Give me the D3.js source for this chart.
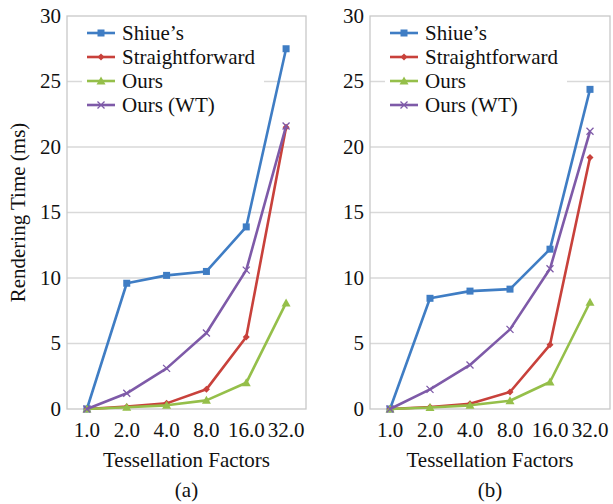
<!DOCTYPE html>
<meta charset="utf-8">
<style>
  body {margin: 0; background: #fff;}
</style>
<svg width="613" height="504"></svg>
<script src="https://d3js.org/d3.v7.min.js"></script>
<script>
  // ---------------------------------------------------------------
  // data
  // ---------------------------------------------------------------
  const factors = ["1.0", "2.0", "4.0", "8.0", "16.0", "32.0"];
  const yTicks = [0, 5, 10, 15, 20, 25, 30];
  const seriesNames = ["Shiue\u2019s", "Straightforward", "Ours", "Ours (WT)"];

  // panel (a)
  const shiueA    = [0, 9.6, 10.2, 10.5, 13.9, 27.5];
  const straightA = [0, 0.18, 0.43, 1.5, 5.5, 21.5];
  const oursA     = [0, 0.13, 0.28, 0.66, 2.0, 8.1];
  const oursWtA   = [0, 1.2, 3.1, 5.8, 10.6, 21.6];

  // panel (b)
  const shiueB    = [0, 8.45, 9.0, 9.15, 12.2, 24.4];
  const straightB = [0, 0.15, 0.4, 1.3, 4.9, 19.2];
  const oursB     = [0, 0.12, 0.28, 0.63, 2.06, 8.15];
  const oursWtB   = [0, 1.5, 3.36, 6.08, 10.7, 21.2];

  const colors  = ["#3f7dc4", "#c8413b", "#95bf4a", "#7e5aa8"];
  const markers = ["square", "diamond", "triangle", "cross"];

  // ---------------------------------------------------------------
  // setup
  // ---------------------------------------------------------------
  const svg = d3.select("svg");
  const plotTop = 16, plotBottom = 409;
  const FONT = "Liberation Serif";

  const panels = [
    {left: 67,  right: 306, label: "(a)", data: [shiueA, straightA, oursA, oursWtA], yTitle: true},
    {left: 370, right: 610, label: "(b)", data: [shiueB, straightB, oursB, oursWtB], yTitle: false}
  ];

  // every label goes through here so the serif face is set on the element itself
  function label(g, str) {
    return g.append("text").attr("font-family", FONT).style("font-family", FONT)
      .attr("font-size", 21).attr("fill", "#111").text(str);
  }

  function drawMarker(g, type, color) {
    if (type === "square") {
      g.append("rect").attr("x", -3.5).attr("y", -3.5).attr("width", 7).attr("height", 7)
        .attr("fill", color);
    } else if (type === "diamond") {
      g.append("path").attr("d", "M0,-3.5L3.5,0L0,3.5L-3.5,0Z").attr("fill", color);
    } else if (type === "triangle") {
      g.append("path").attr("d", "M0,-4.5L4.5,3.5L-4.5,3.5Z").attr("fill", color);
    } else {
      g.append("path").attr("d", "M-3.5,-3.5L3.5,3.5M-3.5,3.5L3.5,-3.5")
        .attr("stroke", color).attr("stroke-width", 1.3).attr("fill", "none");
    }
  }

  panels.forEach(function(p) {
    const x = d3.scalePoint().domain(factors).range([p.left, p.right]).padding(0.5);
    const y = d3.scaleLinear().domain([0, 30]).range([plotBottom, plotTop]);
    const g = svg.append("g");

    // grid
    g.selectAll("line.grid").data(yTicks.slice(1, -1)).enter().append("line")
      .attr("x1", p.left).attr("x2", p.right)
      .attr("y1", d => y(d)).attr("y2", d => y(d))
      .attr("stroke", "#d9d9d9").attr("stroke-width", 1.3);

    // box
    g.append("rect").attr("x", p.left).attr("y", plotTop)
      .attr("width", p.right - p.left).attr("height", plotBottom - plotTop)
      .attr("fill", "none").attr("stroke", "#c8c8c8").attr("stroke-width", 1.3);

    // y ticks
    yTicks.forEach(function(t) {
      label(g, t).attr("x", p.left - 6).attr("y", y(t)).attr("dy", "0.33em")
        .attr("text-anchor", "end");
    });

    // x ticks
    factors.forEach(function(f) {
      label(g, f).attr("x", x(f)).attr("y", 437).attr("text-anchor", "middle");
    });

    const mid = (p.left + p.right) / 2;
    label(g, "Tessellation Factors").attr("x", mid).attr("y", 467).attr("text-anchor", "middle");
    label(g, p.label).attr("x", mid).attr("y", 497).attr("text-anchor", "middle");

    if (p.yTitle) {
      label(g, "Rendering Time (ms)")
        .attr("transform", "translate(25," + ((plotTop + plotBottom) / 2) + ") rotate(-90)")
        .attr("text-anchor", "middle");
    }

    // legend background
    const lx = p.left + 15;
    g.append("rect").attr("x", lx).attr("y", 20).attr("width", 182).attr("height", 96)
      .attr("fill", "#fff");

    // series
    const line = d3.line().x((d, i) => x(factors[i])).y(d => y(d));
    p.data.forEach(function(vals, s) {
      g.append("path").datum(vals).attr("d", line)
        .attr("fill", "none").attr("stroke", colors[s]).attr("stroke-width", 2.6)
        .attr("stroke-linejoin", "round");
      vals.forEach(function(v, i) {
        const m = g.append("g").attr("transform", "translate(" + x(factors[i]) + "," + y(v) + ")");
        drawMarker(m, markers[s], colors[s]);
      });
    });

    // legend
    seriesNames.forEach(function(name, s) {
      const ly = 33 + s * 24;
      g.append("line").attr("x1", lx + 5).attr("x2", lx + 33).attr("y1", ly).attr("y2", ly)
        .attr("stroke", colors[s]).attr("stroke-width", 2.6);
      const m = g.append("g").attr("transform", "translate(" + (lx + 19) + "," + ly + ")");
      drawMarker(m, markers[s], colors[s]);
      label(g, name).attr("x", lx + 40).attr("y", ly).attr("dy", "0.33em");
    });
  });
</script>
